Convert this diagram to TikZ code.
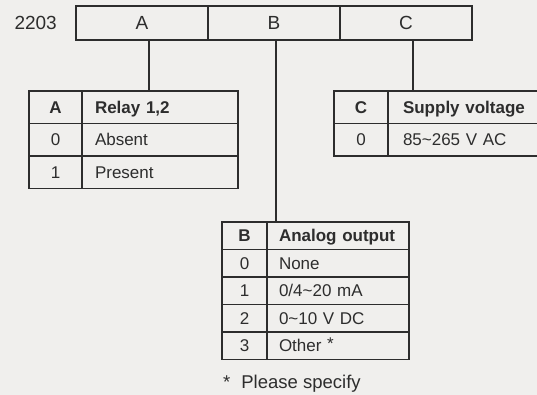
\documentclass[tikz,border=0pt]{standalone}
\usepackage{fontspec}
\setmainfont{Liberation Sans}
\usetikzlibrary{positioning}
\definecolor{bggray}{RGB}{240,239,237}
\definecolor{ink}{RGB}{45,45,45}

\tikzset{
  codebox/.style={draw=ink, line width=1.3pt, minimum width=132pt, minimum height=34pt,
    inner sep=0pt, outer sep=0pt, text=ink, font=\fontsize{19}{22}\selectfont},
  keycell/.style={draw=ink, line width=1.3pt, anchor=north west, inner sep=0pt, outer sep=0pt,
    text height=12.2pt, text depth=0pt, text=ink, font=\fontsize{17}{20}\selectfont},
  textcell/.style={keycell, align=left},
  rowA/.style={minimum height=32.5pt},
  rowB/.style={minimum height=27.5pt},
  link/.style={draw=ink, line width=1.3pt},
}

\begin{document}
\begin{tikzpicture}[x=1pt, y=-1pt]
  \fill[bggray] (0,0) rectangle (537,395);
  \useasboundingbox (0,0) rectangle (537,395);
  \clip (0,0) rectangle (537,395);

  % order code
  \node[codebox] (codeA) at (142,23) {A};
  \node[codebox, right=0pt of codeA] (codeB) {B};
  \node[codebox, right=0pt of codeB] (codeC) {C};
  \node[left=19pt of codeA, inner sep=0pt, text=ink, font=\fontsize{19}{22}\selectfont] (model) {2203};

  % table A
  \node[keycell, rowA, minimum width=53pt] (aHead) at (29,91) {\textbf{A}};
  \node[textcell, rowA, text width=130pt, inner xsep=13pt] (aHeadTxt) at (aHead.north east) {\textbf{Relay 1,2}};
  \node[keycell, rowA, minimum width=53pt] (a0) at (aHead.south west) {0};
  \node[textcell, rowA, text width=130pt, inner xsep=13pt] (a0Txt) at (a0.north east) {Absent};
  \node[keycell, rowA, minimum width=53pt] (a1) at (a0.south west) {1};
  \node[textcell, rowA, text width=130pt, inner xsep=13pt] (a1Txt) at (a1.north east) {Present};

  % table C
  \node[keycell, rowA, minimum width=54pt] (cHead) at (334,91) {\textbf{C}};
  \node[textcell, rowA, text width=150pt, inner xsep=15pt] (cHeadTxt) at (cHead.north east) {\textbf{Supply voltage}};
  \node[keycell, rowA, minimum width=54pt] (c0) at (cHead.south west) {0};
  \node[textcell, rowA, text width=150pt, inner xsep=15pt] (c0Txt) at (c0.north east) {85\textasciitilde 265 V AC};

  % table B
  \node[keycell, rowB, minimum width=45pt] (bHead) at (222,222) {\textbf{B}};
  \node[textcell, rowB, text width=118pt, inner xsep=12pt] (bHeadTxt) at (bHead.north east) {\textbf{Analog output}};
  \node[keycell, rowB, minimum width=45pt] (b0) at (bHead.south west) {0};
  \node[textcell, rowB, text width=118pt, inner xsep=12pt] (b0Txt) at (b0.north east) {None};
  \node[keycell, rowB, minimum width=45pt] (b1) at (b0.south west) {1};
  \node[textcell, rowB, text width=118pt, inner xsep=12pt] (b1Txt) at (b1.north east) {0/4\textasciitilde 20 mA};
  \node[keycell, rowB, minimum width=45pt] (b2) at (b1.south west) {2};
  \node[textcell, rowB, text width=118pt, inner xsep=12pt] (b2Txt) at (b2.north east) {0\textasciitilde 10 V DC};
  \node[keycell, rowB, minimum width=45pt] (b3) at (b2.south west) {3};
  \node[textcell, rowB, text width=118pt, inner xsep=12pt] (b3Txt) at (b3.north east) {Other \raisebox{2pt}{*}};
  \node[anchor=base west, inner sep=0pt, text=ink, font=\fontsize{18.5}{20}\selectfont] (note)
    at ([xshift=1pt,yshift=-28.5pt]b3.south west) {*\hspace{11pt}Please specify};

  % connectors
  \draw[link] ([xshift=7pt]codeA.south) -- ([xshift=7pt]codeA.south |- aHead.north);
  \draw[link] ([xshift=2pt]codeB.south) -- ([xshift=2pt]codeB.south |- bHead.north);
  \draw[link] ([xshift=7pt]codeC.south) -- ([xshift=7pt]codeC.south |- cHead.north);
\end{tikzpicture}
\end{document}
